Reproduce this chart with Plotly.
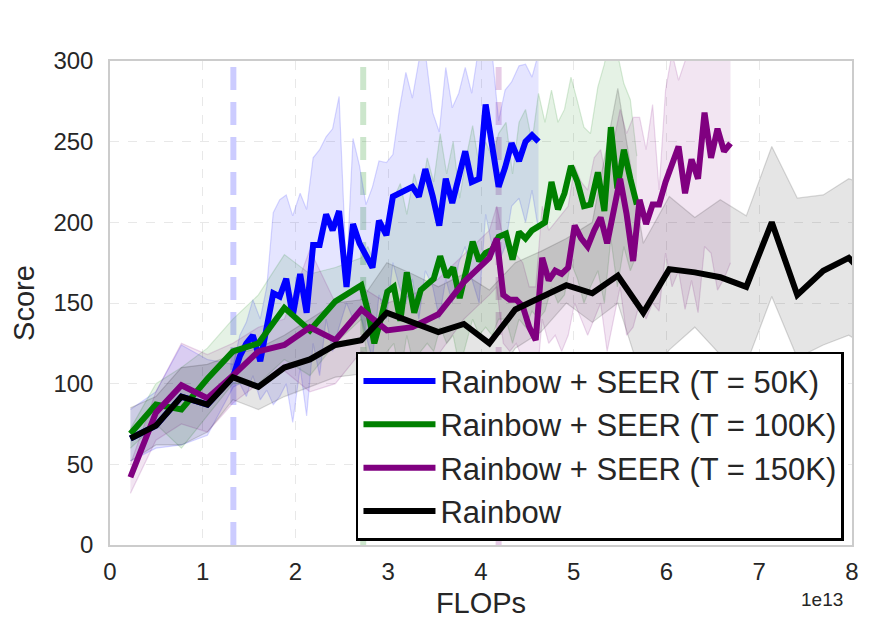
import plotly.graph_objects as go

# ---------------- data (x in units of 1e13 FLOPs) ----------------
rainbow_x = [0.22, 0.495, 0.77, 1.05, 1.325, 1.6, 1.88, 2.155, 2.43, 2.71, 2.985, 3.26, 3.54, 3.815,
             4.09, 4.37, 4.645, 4.92, 5.2, 5.475, 5.75, 6.03, 6.305, 6.58, 6.86, 7.135, 7.41, 7.69, 7.965, 8.24]
rainbow_y = [66, 74, 92, 87, 104, 98, 110, 115, 124, 127, 144, 138, 132, 137, 125, 146, 154, 161, 156,
             167, 144, 171, 169, 166, 160, 200, 155, 170, 178, 162]
rainbow_hi = [85, 92, 110, 112, 118, 122, 130, 140, 150, 152, 175, 168, 160, 168, 158, 175, 182, 190, 200,
              283, 187, 216, 203, 214, 204, 247, 215, 217, 227, 222]
rainbow_lo = [52, 62, 62, 70, 90, 84, 92, 98, 104, 106, 118, 112, 105, 110, 98, 122, 132, 150, 138,
              150, 100, 121, 135, 118, 112, 154, 116, 124, 130, 120]

s50_x = [0.22, 0.495, 0.77, 1.05,
         1.33, 1.40, 1.47, 1.54, 1.62, 1.69, 1.76, 1.83, 1.90, 1.97, 2.05, 2.12, 2.19, 2.26, 2.33, 2.40,
         2.47, 2.55, 2.62, 2.69, 2.76, 2.83, 2.90, 2.98, 3.05, 3.12, 3.19, 3.26, 3.33, 3.40, 3.48, 3.55,
         3.62, 3.69, 3.76, 3.83, 3.90, 3.98, 4.05, 4.12, 4.19, 4.26, 4.33, 4.41, 4.48, 4.55, 4.62]
s50_y = [66, 74, 92, 87,
         105, 117, 125, 130, 114, 135, 156, 154, 165, 142, 168, 144, 186, 186, 205, 195, 207, 160, 199,
         187, 180, 172, 201, 192, 216, 218, 219, 222, 216, 233, 216, 198, 227, 212, 228, 244, 225, 227,
         273, 247, 222, 234, 249, 238, 250, 254, 250]
s50_hi = [84, 95, 124, 115,
          112, 130, 138, 152, 140, 160, 206, 214, 217, 204, 218, 208, 240, 245, 253, 258, 278, 168, 252,
          235, 211, 222, 238, 237, 242, 270, 293, 277, 300, 305, 268, 256, 296, 271, 280, 296, 280, 310,
          320, 305, 263, 282, 287, 297, 298, 290, 305]
s50_lo = [52, 60, 62, 68,
          98, 100, 92, 105, 90, 96, 87, 92, 100, 76, 110, 80, 125, 105, 140, 120, 135, 150, 140,
          145, 130, 115, 155, 140, 175, 160, 150, 165, 140, 170, 160, 140, 165, 150, 175, 185, 165, 150,
          205, 185, 175, 185, 210, 215, 200, 220, 195]

s100_x = [0.22, 0.495, 0.77, 1.05, 1.325, 1.6, 1.88, 2.155, 2.43, 2.71,
          2.78, 2.85, 2.92, 2.99, 3.06, 3.13, 3.20, 3.28, 3.35, 3.42, 3.49, 3.56, 3.63, 3.70, 3.77, 3.84,
          3.91, 3.98, 4.05, 4.12, 4.19, 4.27, 4.34, 4.41, 4.48, 4.55, 4.62, 4.69, 4.76, 4.83, 4.90, 4.97,
          5.04, 5.11, 5.18, 5.26, 5.33, 5.40, 5.47, 5.54, 5.61, 5.68]
s100_y = [69, 87, 84, 103, 120, 125, 147, 133, 151, 161,
          145, 125, 140, 157, 160, 139, 169, 144, 158, 162, 165, 179, 166, 172, 153, 170, 188, 176, 181,
          183, 191, 193, 177, 194, 190, 195, 198, 200, 225, 208, 218, 235, 225, 210, 211, 231, 207, 259,
          221, 245, 227, 211]
s100_hi = [72, 100, 110, 122, 140, 155, 180, 168, 172, 178,
           185, 175, 200, 195, 215, 224, 205, 230, 215, 240, 225, 255, 230, 250, 215, 240, 260, 235, 250,
           240, 255, 262, 230, 262, 270, 250, 280, 262, 282, 262, 270, 290, 275, 259, 255, 284, 298, 320,
           305, 286, 276, 241]
s100_lo = [60, 75, 60, 80, 100, 100, 115, 105, 125, 140,
           115, 95, 110, 120, 125, 105, 130, 110, 120, 125, 120, 135, 125, 130, 110, 125, 140, 130, 135,
           130, 140, 140, 125, 140, 135, 145, 140, 145, 160, 150, 155, 175, 165, 150, 160, 170, 150, 190,
           160, 185, 170, 180]

s150_x = [0.22, 0.495, 0.77, 1.05, 1.325, 1.6, 1.88, 2.155, 2.43, 2.71, 2.985, 3.26, 3.54, 3.815, 4.09,
          4.17, 4.24, 4.31, 4.38, 4.45, 4.52, 4.59, 4.66, 4.73, 4.80, 4.87, 4.94, 5.01, 5.08, 5.15, 5.22,
          5.29, 5.36, 5.43, 5.50, 5.57, 5.64, 5.71, 5.78, 5.85, 5.92, 5.99, 6.06, 6.13, 6.20, 6.27, 6.34,
          6.41, 6.48, 6.55, 6.62, 6.69]
s150_y = [42, 82, 99, 91, 105, 120, 124, 135, 127, 146, 133, 135, 143, 163, 178,
          190, 155, 152, 152, 148, 135, 127, 178, 164, 170, 168, 172, 198, 190, 185, 195, 203, 187, 205,
          227, 205, 176, 214, 199, 211, 211, 225, 236, 247, 218, 239, 227, 268, 240, 258, 244, 249]
s150_hi = [50, 95, 125, 118, 125, 135, 140, 183, 150, 160, 150, 155, 165, 180, 195,
           210, 190, 185, 180, 175, 160, 160, 210, 195, 200, 205, 210, 235, 225, 220, 240, 245, 225, 250,
           270, 255, 265, 265, 245, 273, 220, 282, 305, 288, 300, 330, 310, 340, 300, 320, 310, 320]
s150_lo = [32, 65, 75, 70, 88, 100, 108, 95, 100, 120, 115, 110, 118, 140, 155,
           160, 125, 120, 125, 115, 100, 95, 140, 125, 130, 120, 130, 150, 140, 130, 140, 150, 120, 140,
           160, 130, 135, 150, 140, 150, 145, 181, 160, 170, 146, 164, 144, 185, 181, 158, 165, 175]

switch_points = [1.33, 2.73, 4.19]   # T = 50K, 100K, 150K  (x 1e13 FLOPs)
x_ticks = [0, 1, 2, 3, 4, 5, 6, 7, 8]
y_ticks = [0, 50, 100, 150, 200, 250, 300]

series = [
    ("Rainbow + SEER (T = 50K)", s50_x, s50_y, s50_hi, s50_lo, (0, 0, 255)),
    ("Rainbow + SEER (T = 100K)", s100_x, s100_y, s100_hi, s100_lo, (0, 128, 0)),
    ("Rainbow + SEER (T = 150K)", s150_x, s150_y, s150_hi, s150_lo, (128, 0, 128)),
    ("Rainbow", rainbow_x, rainbow_y, rainbow_hi, rainbow_lo, (0, 0, 0)),
]

def rgba(c, a):
    return "rgba(%d,%d,%d,%s)" % (c[0], c[1], c[2], a)

fig = go.Figure()

# dashed switch lines
for xv, (_, _, _, _, _, c) in zip(switch_points, series[:3]):
    fig.add_trace(go.Scatter(x=[xv, xv], y=[0, 300], mode="lines",
                             line=dict(color=rgba(c, 0.2), width=6, dash="23px,12px"),
                             showlegend=False, hoverinfo="skip"))

# bands
for name, xs, ys, hi, lo, c in series:
    fig.add_trace(go.Scatter(x=xs, y=hi, mode="lines", line=dict(color=rgba(c, 0.15), width=1.2),
                             showlegend=False, hoverinfo="skip"))
    fig.add_trace(go.Scatter(x=xs, y=lo, mode="lines", line=dict(color=rgba(c, 0.15), width=1.2),
                             fill="tonexty", fillcolor=rgba(c, 0.1), showlegend=False, hoverinfo="skip"))

# mean lines
for name, xs, ys, hi, lo, c in series:
    fig.add_trace(go.Scatter(x=xs, y=ys, mode="lines", name=name, legendgroup=name,
                             line=dict(color=rgba(c, 1), width=6)))

FONT = "Arial, Liberation Sans, sans-serif"
tickfont = dict(family=FONT, size=24, color="#262626")
fig.update_layout(
    width=871, height=637,
    margin=dict(l=102, r=27, t=53, b=100),
    paper_bgcolor="white", plot_bgcolor="white",
    font=dict(family=FONT, color="#262626"),
    legend=dict(x=0.3315, y=0.399, xanchor="left", yanchor="top",
                bgcolor="white", bordercolor="black", borderwidth=2.5,
                font=dict(size=31, color="#262626"), itemwidth=72, tracegroupgap=0),
    xaxis=dict(range=[0, 8], tickvals=x_ticks, ticktext=[str(t) for t in x_ticks], tickfont=tickfont,
               showgrid=True, gridcolor="#e8e8e8", griddash="dash", gridwidth=1,
               showline=True, linecolor="#cccccc", linewidth=1.5, mirror=True, zeroline=False,
               ticklabelstandoff=4,
               title=dict(text="FLOPs", font=dict(size=29, color="#262626"), standoff=9)),
    yaxis=dict(range=[0, 300], tickvals=y_ticks, tickfont=tickfont,
               showgrid=True, gridcolor="#e8e8e8", griddash="dash", gridwidth=1,
               showline=True, linecolor="#cccccc", linewidth=1.5, mirror=True, zeroline=False,
               ticklabelstandoff=10,
               title=dict(text="Score", font=dict(size=29, color="#262626"), standoff=14)),
    annotations=[dict(text="1e13", x=0.96, y=-0.113, xref="paper", yref="paper",
                      showarrow=False, font=dict(size=19, color="#262626"), xanchor="center",
                      yanchor="middle")],
)

fig.write_html("out.html")
